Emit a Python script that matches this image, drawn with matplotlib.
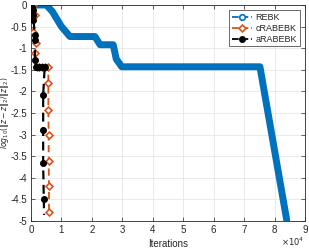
import matplotlib
matplotlib.use('Agg')
import matplotlib.pyplot as plt
from matplotlib.lines import Line2D
from matplotlib.ticker import FuncFormatter

# REBK
rebk_x = [0, 5000, 7000, 10000, 12800, 21000, 22700, 27000, 28000, 29800, 75200, 84000]
rebk_y = [0, 0, -0.15, -0.5, -0.73, -0.73, -0.92, -0.92, -1.25, -1.43, -1.43, -4.98]
# cRABEBK
crab_x = [700, 1300, 700, 1800, 1300, 1900, 2500, 3500, 4500, 5700, 5700, 5700, 5800, 5800, 5900, 5900]
crab_y = [0, -0.23, -0.62, -0.89, -1.11, -1.43, -1.43, -1.43, -1.43, -1.43, -1.81, -2.43, -3.0, -3.6, -4.2, -4.8]
# aRABEBK
arab_x = [200, 700, 700, 800, 1300, 1300, 1300, 1500, 2500, 3500, 4500, 4000, 4000, 4000, 4200, 4300]
arab_y = [-0.04, -0.12, -0.23, -0.35, -0.69, -0.81, -1.27, -1.43, -1.43, -1.43, -1.43, -2.08, -2.89, -3.66, -4.5, -4.86]

blue = '#0072BD'
orange = '#D95319'
grey = '#262626'

plt.rcParams['font.family'] = ['Liberation Sans', 'DejaVu Sans']
plt.rcParams['mathtext.fontset'] = 'dejavusans'
fig = plt.figure(figsize=(3.09, 2.49), dpi=100)
ax = fig.add_axes([31/309, 1-221/249, 274/309, 216/249])

ax.plot(rebk_x, rebk_y, color=blue, lw=5, solid_joinstyle='round', solid_capstyle='round', zorder=2)
ax.plot(crab_x, crab_y, color=orange, ls=(0, (4, 2.5)), lw=1.3, marker='D', ms=3.5,
        mfc='white', mec=orange, mew=1.2, zorder=3)
ax.plot(arab_x, arab_y, color='black', ls=(0, (4, 2.5)), lw=1.6, marker='o', ms=4,
        mfc='black', mec='black', markevery=list(range(len(arab_x) - 1)), zorder=4)

ax.set_xlim(0, 90000)
ax.set_ylim(-5, 0)
ax.set_xticks(range(0, 90001, 10000))
ax.set_yticks([-5 + 0.5 * i for i in range(11)])
ax.xaxis.set_major_formatter(FuncFormatter(lambda v, p: '%g' % (v / 1e4)))
ax.yaxis.set_major_formatter(FuncFormatter(lambda v, p: '%g' % v))
ax.grid(True, color='#e6e6e6', lw=0.6)
ax.set_axisbelow(True)
ax.tick_params(direction='in', length=3, width=0.5, labelsize=7, colors=grey,
               top=True, right=True, pad=3)
for s in ax.spines.values():
    s.set_color(grey)
    s.set_linewidth(0.6)

ax.set_xlabel('Iterations', fontsize=7, color=grey, labelpad=3)
ax.set_ylabel(r'$log_{10}(\|z-\hat{z}\|_2/\|\hat{z}\|_2)$', fontsize=5.5, color=grey)
ax.yaxis.set_label_coords(-0.068, 0.5)
fig.text(0.985, 0.005, r'$\times10^4$', fontsize=6, color=grey, ha='right', va='bottom')

handles = [
    Line2D([], [], color=blue, ls='--', lw=1.3, marker='o', ms=4, mfc='white', mec=blue, mew=1.2),
    Line2D([], [], color=orange, ls='--', lw=1.3, marker='D', ms=3.5, mfc='white', mec=orange, mew=1.2),
    Line2D([], [], color='black', ls='--', lw=1.3, marker='o', ms=4, mfc='black'),
]
leg = ax.legend(handles, ['REBK', 'cRABEBK', 'aRABEBK'], loc='upper right', fontsize=6.5,
                frameon=True, fancybox=False, handlelength=2.2, borderpad=0.3,
                labelspacing=0.2, handletextpad=0.4, borderaxespad=0.6)
leg.get_frame().set_edgecolor(grey)
leg.get_frame().set_linewidth(0.6)
for t in leg.get_texts():
    t.set_color(grey)

fig.savefig('out.png', dpi=100)
